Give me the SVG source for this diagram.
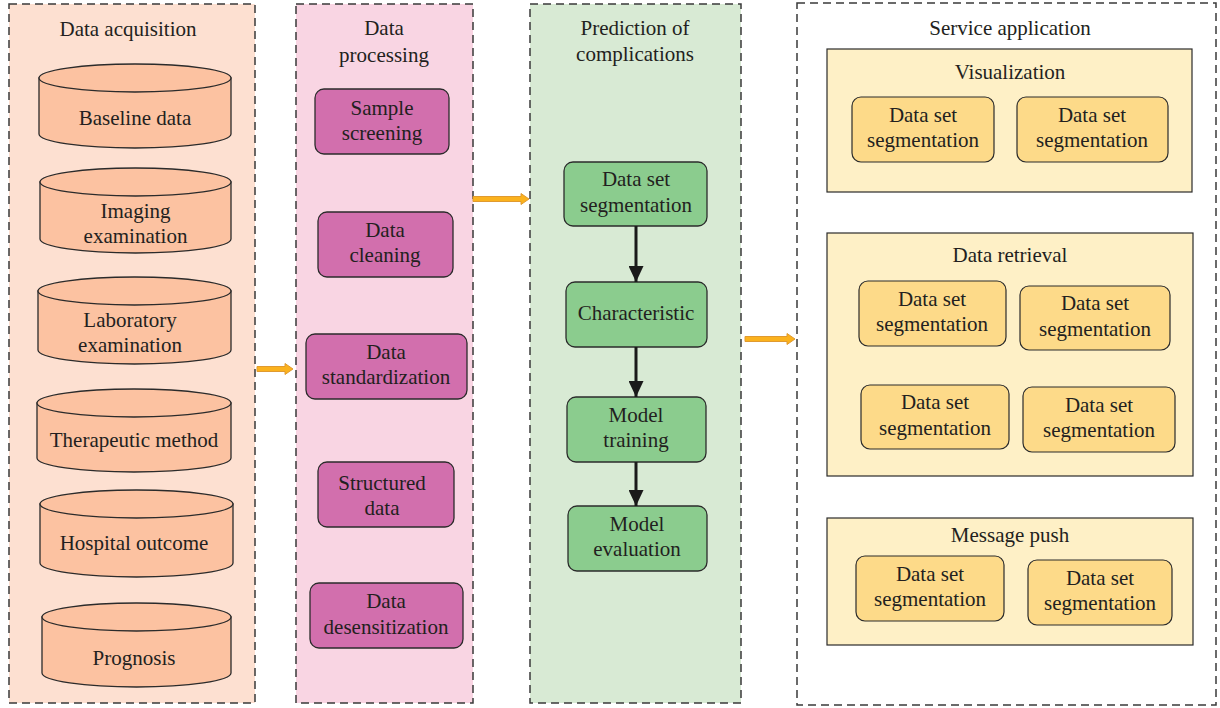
<svg xmlns="http://www.w3.org/2000/svg" width="1220" height="708" viewBox="0 0 1220 708">
<defs>
<style>
text{font-family:"Liberation Serif","Times New Roman",serif;font-size:21px;fill:#231f20;text-anchor:middle}
.panel{stroke:#3a3a3a;stroke-width:1.5;stroke-dasharray:8 5}
.cyl{fill:#fcc2a1;stroke:#2b2b2b;stroke-width:1.3}
.pink{fill:#d26fad;stroke:#2b2b2b;stroke-width:1.3}
.green{fill:#8bcc8e;stroke:#2b2b2b;stroke-width:1.3}
.ybox{fill:#fef0c6;stroke:#2b2b2b;stroke-width:1.2}
.yin{fill:#fdda89;stroke:#2b2b2b;stroke-width:1.2}
.oarrow{fill:#fbb21d;stroke:#e09a30;stroke-width:1}
.barrow{stroke:#1a1a1a;stroke-width:3;fill:none}
</style>
<marker id="ah" markerUnits="userSpaceOnUse" markerWidth="16" markerHeight="15" refX="16" refY="7.5" orient="auto">
<path d="M0,0 L16,7.5 L0,15 Z" fill="#1a1a1a"/>
</marker>
</defs>
<rect width="1220" height="708" fill="#ffffff"/>

<g id="panel-acquisition">
<rect class="panel" x="9" y="4" width="246" height="699" fill="#fde0d1"/>
<text x="128" y="36">Data acquisition</text>
</g>
<g id="panel-processing">
<rect class="panel" x="296" y="4" width="177" height="699" fill="#f9d5e3"/>
<text x="384" y="35">Data</text>
<text x="384" y="62">processing</text>
</g>
<g id="panel-prediction">
<rect class="panel" x="530" y="4" width="211" height="699" fill="#d8ead4"/>
<text x="635" y="35">Prediction of</text>
<text x="635" y="61">complications</text>
</g>
<g id="panel-service">
<rect class="panel" x="797" y="3" width="419" height="702" fill="#ffffff"/>
<text x="1010" y="35">Service application</text>
</g>

<g id="cyl-baseline">
<path class="cyl" d="M39,78 V134 A96,14 0 0 0 231,134 V78 Z"/>
<ellipse class="cyl" cx="135" cy="78" rx="96" ry="14"/>
<text x="135" y="125">Baseline data</text>
</g>
<g id="cyl-imaging">
<path class="cyl" d="M40,182 V239 A95.5,14 0 0 0 231,239 V182 Z"/>
<ellipse class="cyl" cx="135.5" cy="182" rx="95.5" ry="14"/>
<text x="135.5" y="218">Imaging</text>
<text x="135.5" y="243">examination</text>
</g>
<g id="cyl-laboratory">
<path class="cyl" d="M38,291 V350 A96.5,14 0 0 0 231,350 V291 Z"/>
<ellipse class="cyl" cx="134.5" cy="291" rx="96.5" ry="14"/>
<text x="130" y="327">Laboratory</text>
<text x="130" y="352">examination</text>
</g>
<g id="cyl-therapeutic">
<path class="cyl" d="M37,403 V458 A97,14 0 0 0 231,458 V403 Z"/>
<ellipse class="cyl" cx="134" cy="403" rx="97" ry="14"/>
<text x="134" y="447">Therapeutic method</text>
</g>
<g id="cyl-hospital">
<path class="cyl" d="M40,504 V563 A96.5,14 0 0 0 233,563 V504 Z"/>
<ellipse class="cyl" cx="136.5" cy="504" rx="96.5" ry="14"/>
<text x="134" y="550">Hospital outcome</text>
</g>
<g id="cyl-prognosis">
<path class="cyl" d="M42,617 V673 A94.5,14 0 0 0 231,673 V617 Z"/>
<ellipse class="cyl" cx="136.5" cy="617" rx="94.5" ry="14"/>
<text x="134" y="665">Prognosis</text>
</g>

<g id="box-sample">
<rect class="pink" x="315" y="89" width="134" height="65" rx="9"/>
<text x="382" y="115">Sample</text>
<text x="382" y="140">screening</text>
</g>
<g id="box-cleaning">
<rect class="pink" x="318" y="212" width="135" height="65" rx="9"/>
<text x="385" y="237">Data</text>
<text x="385" y="262">cleaning</text>
</g>
<g id="box-standardization">
<rect class="pink" x="306" y="334" width="161" height="65" rx="9"/>
<text x="386" y="359">Data</text>
<text x="386" y="384">standardization</text>
</g>
<g id="box-structured">
<rect class="pink" x="318" y="462" width="136" height="65" rx="9"/>
<text x="382" y="490">Structured</text>
<text x="382" y="515">data</text>
</g>
<g id="box-desensitization">
<rect class="pink" x="310" y="583" width="153" height="65" rx="9"/>
<text x="386" y="608">Data</text>
<text x="386" y="634">desensitization</text>
</g>

<g id="box-segmentation">
<rect class="green" x="564" y="162" width="143" height="64" rx="9"/>
<text x="636" y="186">Data set</text>
<text x="636" y="212">segmentation</text>
</g>
<g id="box-characteristic">
<rect class="green" x="566" y="282" width="141" height="65" rx="9"/>
<text x="636" y="320">Characteristic</text>
</g>
<g id="box-training">
<rect class="green" x="567" y="397" width="139" height="65" rx="9"/>
<text x="636" y="422">Model</text>
<text x="636" y="447">training</text>
</g>
<g id="box-evaluation">
<rect class="green" x="568" y="506" width="139" height="65" rx="9"/>
<text x="637" y="531">Model</text>
<text x="637" y="556">evaluation</text>
</g>

<g id="group-visualization">
<rect class="ybox" x="827" y="49" width="365" height="143"/>
<text x="1010" y="79">Visualization</text>
</g>
<g id="vis-1">
<rect class="yin" x="852" y="97" width="142" height="65" rx="9"/>
<text x="923" y="122">Data set</text>
<text x="923" y="147">segmentation</text>
</g>
<g id="vis-2">
<rect class="yin" x="1017" y="97" width="151" height="65" rx="9"/>
<text x="1092" y="122">Data set</text>
<text x="1092" y="147">segmentation</text>
</g>

<g id="group-retrieval">
<rect class="ybox" x="827" y="233" width="366" height="243"/>
<text x="1010" y="262">Data retrieval</text>
</g>
<g id="ret-1">
<rect class="yin" x="859" y="281" width="147" height="65" rx="9"/>
<text x="932" y="306">Data set</text>
<text x="932" y="331">segmentation</text>
</g>
<g id="ret-2">
<rect class="yin" x="1020" y="286" width="150" height="64" rx="9"/>
<text x="1095" y="310">Data set</text>
<text x="1095" y="336">segmentation</text>
</g>
<g id="ret-3">
<rect class="yin" x="861" y="385" width="148" height="64" rx="9"/>
<text x="935" y="409">Data set</text>
<text x="935" y="435">segmentation</text>
</g>
<g id="ret-4">
<rect class="yin" x="1023" y="387" width="152" height="65" rx="9"/>
<text x="1099" y="412">Data set</text>
<text x="1099" y="437">segmentation</text>
</g>

<g id="group-message">
<rect class="ybox" x="827" y="518" width="366" height="127"/>
<text x="1010" y="542">Message push</text>
</g>
<g id="msg-1">
<rect class="yin" x="856" y="556" width="148" height="65" rx="9"/>
<text x="930" y="581">Data set</text>
<text x="930" y="606">segmentation</text>
</g>
<g id="msg-2">
<rect class="yin" x="1028" y="560" width="144" height="65" rx="9"/>
<text x="1100" y="585">Data set</text>
<text x="1100" y="610">segmentation</text>
</g>

<g id="connectors">
<polygon class="oarrow" points="257,366.5 285,366.5 285,363.5 293,369 285,374.5 285,371.5 257,371.5"/>
<polygon class="oarrow" points="473,196.5 521,196.5 521,193.5 529,199 521,204.5 521,201.5 473,201.5"/>
<polygon class="oarrow" points="745,336.5 787,336.5 787,333.5 795,339 787,344.5 787,341.5 745,341.5"/>
<line class="barrow" x1="636" y1="226" x2="636" y2="282" marker-end="url(#ah)"/>
<line class="barrow" x1="636" y1="347" x2="636" y2="397" marker-end="url(#ah)"/>
<line class="barrow" x1="636" y1="462" x2="636" y2="506" marker-end="url(#ah)"/>
</g>
</svg>
